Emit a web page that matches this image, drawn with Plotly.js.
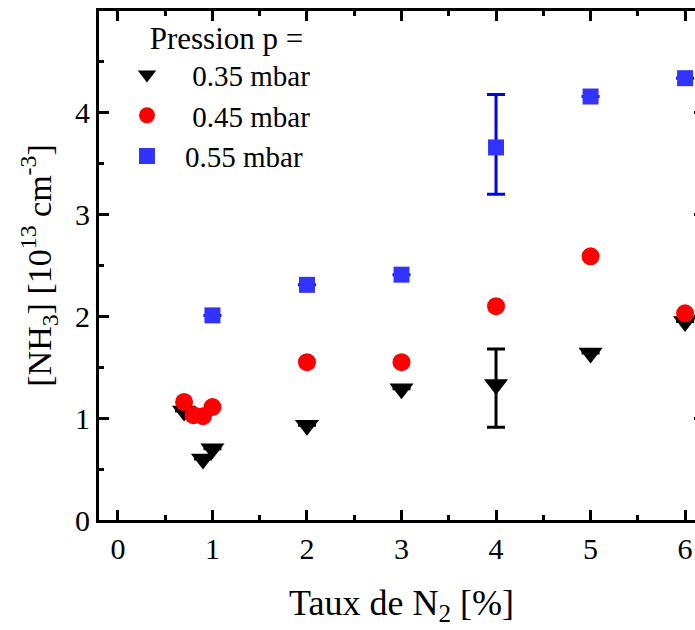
<!DOCTYPE html>
<html>
<head>
<meta charset="utf-8">
<script src="https://cdn.plot.ly/plotly-3.0.1.min.js"></script>
<style>
html, body { margin: 0; padding: 0; overflow: hidden; background: #fff; }
#chart { width: 710px; height: 630px; }
</style>
</head>
<body>
<div id="chart"></div>
<script>
// Taux de N2 [%] and [NH3] [1e13 cm-3] for each pressure
const x035 = [0.7, 0.9, 1.0, 2, 3, 4, 5, 6];
const y035 = [1.07, 0.60, 0.70, 0.93, 1.29, 1.33, 1.64, 1.95];
const err035Plus  = [null, null, null, null, null, 0.35, null, null];
const err035Minus = [null, null, null, null, null, 0.42, null, null];

const x045 = [0.7, 0.8, 0.9, 1.0, 2, 3, 4, 5, 6];
const y045 = [1.16, 1.03, 1.02, 1.11, 1.55, 1.55, 2.10, 2.59, 2.03];

const x055 = [1, 2, 3, 4, 5, 6];
const y055 = [2.01, 2.31, 2.41, 3.66, 4.16, 4.34];
const err055Plus  = [null, null, null, 0.52, null, null];
const err055Minus = [null, null, null, 0.46, null, null];

const seriesNames = ['0.35 mbar', '0.45 mbar', '0.55 mbar'];
const legendTitle = 'Pression p =';
const xTitle = 'Taux de N<sub>2</sub> [%]';
const yTitle = '[NH<sub>3</sub>] [10<sup>13</sup> cm<sup>-3</sup>]';
const xTickVals = [0, 1, 2, 3, 4, 5, 6];
const yTickVals = [0, 1, 2, 3, 4];

const NB = '\u00a0';
const FONT = 'Liberation Serif';

const traces = [
  {
    x: x035, y: y035, type: 'scatter', mode: 'markers',
    name: NB + seriesNames[0],
    marker: { symbol: 'triangle-down', size: 21, color: '#000000' },
    error_y: { type: 'data', symmetric: false, array: err035Plus, arrayminus: err035Minus,
               color: '#000000', thickness: 3, width: 9 }
  },
  {
    x: x045, y: y045, type: 'scatter', mode: 'markers',
    name: NB + seriesNames[1],
    marker: { symbol: 'circle', size: 18, color: '#ff0000' }
  },
  {
    x: x055, y: y055, type: 'scatter', mode: 'markers',
    name: seriesNames[2],
    marker: { symbol: 'square', size: 16, color: '#3333ff' },
    error_y: { type: 'data', symmetric: false, array: err055Plus, arrayminus: err055Minus,
               color: '#0000ff', thickness: 3, width: 9 }
  }
];

const axisCommon = {
  showline: true, linecolor: '#000', linewidth: 3,
  mirror: 'ticks', ticks: 'inside', ticklen: 10, tickwidth: 3, tickcolor: '#000',
  showgrid: false, zeroline: false,
  tickfont: { family: FONT, size: 30, color: '#000' },
  minor: { ticks: 'inside', ticklen: 5, tickwidth: 3, tickcolor: '#000', dtick: 0.5, showgrid: false }
};

const layout = {
  width: 710, height: 630,
  margin: { l: 99, r: 6, t: 11, b: 110 },
  paper_bgcolor: '#fff', plot_bgcolor: '#fff',
  font: { family: FONT, color: '#000' },
  showlegend: true,
  xaxis: Object.assign({}, axisCommon, {
    range: [-0.2, 6.2], tickvals: xTickVals,
    title: { text: xTitle, font: { family: FONT, size: 36, color: '#000' }, standoff: 26 }
  }),
  yaxis: Object.assign({}, axisCommon, {
    range: [0, 5], tickvals: yTickVals,
    title: { text: yTitle, font: { family: FONT, size: 34, color: '#000' }, standoff: 14 }
  }),
  legend: {
    x: 0.0165, y: 1.004, xanchor: 'left', yanchor: 'top',
    bgcolor: 'rgba(0,0,0,0)', borderwidth: 0,
    font: { family: FONT, size: 29, color: '#000' },
    title: { text: NB + NB + NB + NB + NB + legendTitle, font: { family: FONT, size: 31, color: '#000' }, side: 'top' },
    itemwidth: 66
  }
};

Plotly.newPlot('chart', traces, layout, { displayModeBar: false, staticPlot: true });
</script>
</body>
</html>
